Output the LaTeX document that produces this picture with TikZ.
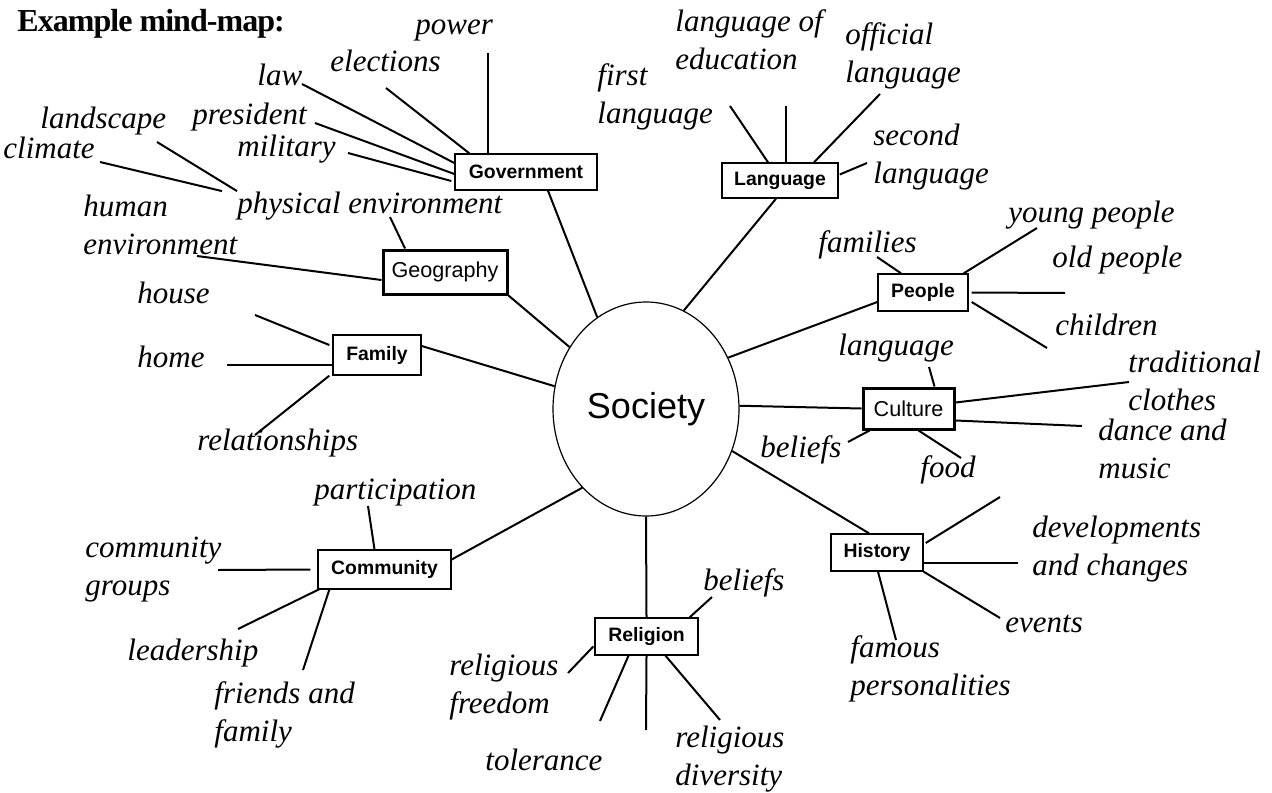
\documentclass[tikz,border=0pt]{standalone}
\usepackage{fontspec}
\setmainfont{Liberation Serif}
\setsansfont{Liberation Sans}
\usetikzlibrary{shapes.geometric}

\begin{document}
\begin{tikzpicture}[x=0.5pt,y=-0.5pt,
    topic/.style={draw,line width=0.7pt,inner sep=0pt,font=\sffamily\bfseries\fontsize{9.7}{11}\selectfont},
    topicthick/.style={draw,line width=1.5pt,inner sep=0pt,font=\sffamily\fontsize{10.8}{12}\selectfont},
    idea/.style={anchor=base west,inner sep=0pt,align=left,font=\itshape\fontsize{15.5}{19}\selectfont},
    link/.style={line width=1pt}]
        \useasboundingbox (0,0) rectangle (1272,792);
        \node[anchor=base west,inner sep=0pt,font=\bfseries\fontsize{16}{18}\selectfont\addfontfeature{LetterSpace=-3}] (title) at (17,32) {Example mind-map:};
        \node[draw,ellipse,line width=0.6pt,minimum width=93pt,minimum height=107pt,inner sep=0pt,font=\sffamily\fontsize{18}{20}\selectfont] (soc) at (646,409) {Society};
        \node[topic,minimum width=71pt,minimum height=18pt] (gov) at (526,172) {Government};
        \node[topic,minimum width=58pt,minimum height=17.5pt] (lang) at (780,180.5) {Language};
        \node[topicthick,minimum width=62pt,minimum height=22pt] (geo) at (445,272) {Geography};
        \node[topic,minimum width=45pt,minimum height=18.5pt] (ppl) at (923,292.5) {People};
        \node[topic,minimum width=44pt,minimum height=20pt] (fam) at (377,355) {Family};
        \node[topicthick,minimum width=45.5pt,minimum height=20.5pt] (cul) at (908.5,408.5) {Culture};
        \node[topic,minimum width=66.5pt,minimum height=19.5pt] (com) at (384.5,569.5) {Community};
        \node[topic,minimum width=51.5pt,minimum height=18.5pt] (rel) at (646.5,636.5) {Religion};
        \node[topic,minimum width=46pt,minimum height=18.5pt] (his) at (877,552.5) {History};

        \node[idea] (power) at (415,35) {power};
        \node[idea] (elections) at (330,72) {elections};
        \node[idea] (law) at (257,85) {law};
        \node[idea] (president) at (192,125) {president};
        \node[idea] (military) at (237,156) {military};
        \node[idea] (landscape) at (40,128) {landscape};
        \node[idea] (climate) at (3,158) {climate};
        \node[idea] (physenv) at (237,213) {physical environment};
        \node[idea] (humenv) at (83,254) {human\\environment};
        \node[idea] (house) at (137,303) {house};
        \node[idea] (home) at (137,367) {home};
        \node[idea] (relations) at (197,450) {relationships};
        \node[idea] (eduLang) at (675,70) {language of\\education};
        \node[idea] (offLang) at (845,83) {official\\language};
        \node[idea] (firstLang) at (597,123) {first\\language};
        \node[idea] (secLang) at (873,183) {second\\language};
        \node[idea] (families) at (818,252) {families};
        \node[idea] (young) at (1008,222) {young people};
        \node[idea] (old) at (1052,267) {old people};
        \node[idea] (children) at (1055,335) {children};
        \node[idea] (culLang) at (838,355) {language};
        \node[idea] (clothes) at (1128,410) {traditional\\clothes};
        \node[idea] (dance) at (1098,478) {dance and\\music};
        \node[idea] (culBeliefs) at (760,457) {beliefs};
        \node[idea] (food) at (920,477) {food};
        \node[idea] (particip) at (314,499) {participation};
        \node[idea] (groups) at (85,595) {community\\groups};
        \node[idea] (leader) at (127,660) {leadership};
        \node[idea] (friends) at (214,741) {friends and\\family};
        \node[idea] (freedom) at (449,713) {religious\\freedom};
        \node[idea] (tolerance) at (485,770) {tolerance};
        \node[idea] (diversity) at (675,785) {religious\\diversity};
        \node[idea] (relBeliefs) at (703,590) {beliefs};
        \node[idea] (changes) at (1032,575) {developments\\and changes};
        \node[idea] (events) at (1005,632) {events};
        \node[idea] (famous) at (850,695) {famous\\personalities};

        \coordinate (pwE) at (488,53);
        \coordinate (elE) at (386,88);
        \coordinate (lawE) at (302,84);
        \coordinate (prE) at (315,123);
        \coordinate (miE) at (348,153);
        \coordinate (lsE) at (157,142);
        \coordinate (clE) at (100,162);
        \coordinate (peE) at (390,217);
        \coordinate (heE) at (197,256);
        \coordinate (hoE) at (255,315);
        \coordinate (hmE) at (227,365);
        \coordinate (reE) at (255,435);
        \coordinate (fiE) at (730,106);
        \coordinate (edE) at (786,106);
        \coordinate (ofE) at (880,94);
        \coordinate (seE) at (867,163);
        \coordinate (fmE) at (877,257);
        \coordinate (ypE) at (1037,228);
        \coordinate (opE) at (1065,293);
        \coordinate (chE) at (1047,348);
        \coordinate (laE) at (929,367);
        \coordinate (trE) at (1129,382);
        \coordinate (daE) at (1082,426);
        \coordinate (fdE) at (961,458);
        \coordinate (cbE) at (848,442);
        \coordinate (paE) at (368,506);
        \coordinate (cgE) at (218,570);
        \coordinate (leE) at (238,629);
        \coordinate (frE) at (303,670);
        \coordinate (rbE) at (712,597);
        \coordinate (rfE) at (568,673);
        \coordinate (toE) at (600,721);
        \coordinate (rvE) at (646,730);
        \coordinate (rdE) at (720,720);
        \coordinate (hiE) at (1000,497);
        \coordinate (dvE) at (1018,563);
        \coordinate (evE) at (1000,618);
        \coordinate (faE) at (896,640);

        \draw[link] ([xshift=11pt]gov.south) -- (soc.118);
        \draw[link] ([xshift=-2pt]lang.south) -- (soc.69);
        \draw[link] (geo.south east) -- (soc.141);
        \draw[link] ([yshift=4.5pt]fam.east) -- (soc.166);
        \draw[link] ([yshift=-4.75pt]ppl.west) -- (soc.32);
        \draw[link] (cul.west) -- (soc.2);
        \draw[link] ([xshift=-4pt]his.north) -- (soc.-26);
        \draw[link] (soc.south) -- (rel.north);
        \draw[link] ([yshift=5pt]com.east) -- (soc.231);

        \draw[link] (pwE) -- (pwE |- gov.north);
        \draw[link] (elE) -- ([xshift=7.5pt]gov.north west);
        \draw[link] (lawE) -- ([yshift=4.5pt]gov.west);
        \draw[link] (prE) -- ([yshift=-1pt]gov.west);
        \draw[link] (miE) -- ([xshift=-1.5pt,yshift=-4.5pt]gov.west);

        \draw[link] (lsE) -- (physenv.north west);
        \draw[link] (clE) -- ([xshift=-7.5pt]physenv.north west);
        \draw[link] (peE) -- ([xshift=-20pt]geo.north);
        \draw[link] (heE) -- ([yshift=-4pt]geo.west);

        \draw[link] (hoE) -- ([xshift=-1.5pt,yshift=5pt]fam.west);
        \draw[link] (hmE) -- (hmE -| fam.west);
        \draw[link] (reE) -- ([xshift=-1.5pt]fam.south west);

        \draw[link] (fiE) -- ([xshift=-6pt]lang.north);
        \draw[link] (edE) -- (edE |- lang.north);
        \draw[link] (ofE) -- ([xshift=17pt]lang.north);
        \draw[link] (seE) -- ([xshift=0.5pt,yshift=3pt]lang.east);

        \draw[link] (fmE) -- ([xshift=-11pt]ppl.north);
        \draw[link] (ypE) -- ([xshift=-2.5pt]ppl.north east);
        \draw[link] (opE) -- ([xshift=1.5pt]ppl.east);
        \draw[link] (chE) -- ([xshift=1.5pt,yshift=-4.75pt]ppl.east);

        \draw[link] (laE) -- ([xshift=13pt]cul.north);
        \draw[link] (trE) -- ([yshift=3pt]cul.east);
        \draw[link] (daE) -- ([yshift=-6pt]cul.east);
        \draw[link] (fdE) -- ([xshift=5pt]cul.south);
        \draw[link] (cbE) -- ([xshift=4pt]cul.south west);

        \draw[link] (paE) -- ([xshift=-5pt]com.north);
        \draw[link] (cgE) -- ([xshift=-3.5pt]com.west);
        \draw[link] (leE) -- ([xshift=1.5pt,yshift=0.5pt]com.south west);
        \draw[link] (frE) -- ([xshift=6pt]com.south west);

        \draw[link] (rbE) -- ([xshift=-4.5pt]rel.north east);
        \draw[link] (rfE) -- ([xshift=-0.5pt,yshift=-5pt]rel.west);
        \draw[link] (toE) -- ([xshift=-9pt]rel.south);
        \draw[link] (rvE) -- (rel.south);
        \draw[link] (rdE) -- ([xshift=9.5pt]rel.south);

        \draw[link] (hiE) -- ([xshift=1pt,yshift=4.75pt]his.east);
        \draw[link] (dvE) -- (dvE -| his.east);
        \draw[link] (evE) -- (his.south east);
        \draw[link] (faE) -- ([xshift=0.5pt]his.south);
    \end{tikzpicture}
\end{document}
